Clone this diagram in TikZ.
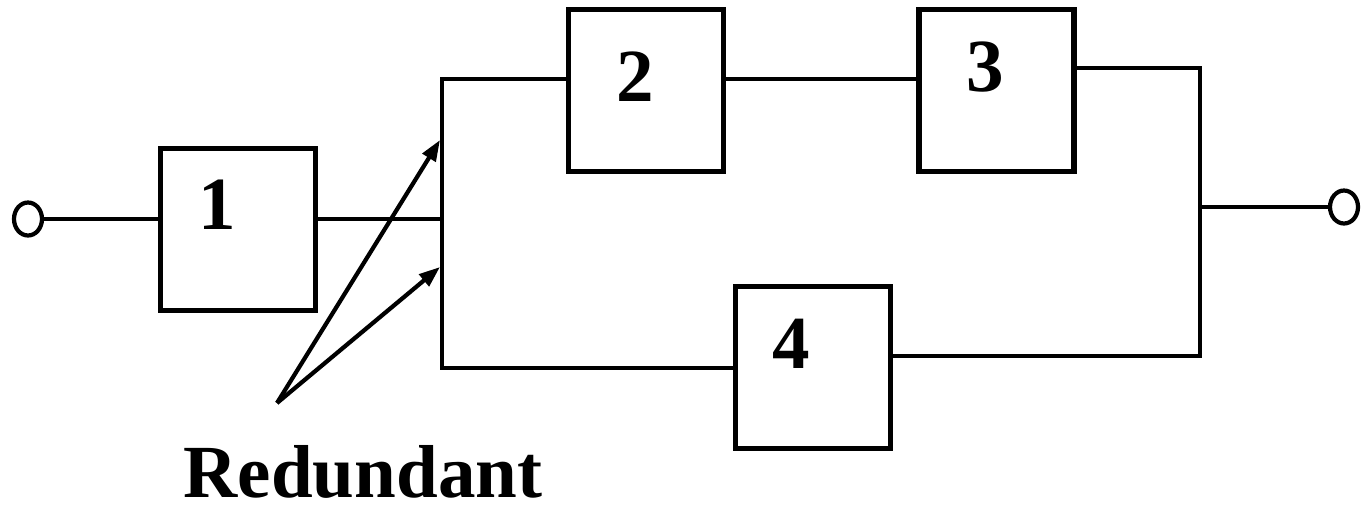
\documentclass[tikz,border=0pt]{standalone}
\usepackage{fontspec}
\setmainfont{Liberation Serif}
\usetikzlibrary{arrows.meta,shapes.geometric}

\begin{document}
\begin{tikzpicture}[x=0.02cm,y=-0.02cm,
  blk/.style={draw,line width=2.9pt,minimum width=3.1cm,minimum height=3.24cm,inner sep=0pt},
  term/.style={draw,ellipse,line width=2.4pt,minimum width=0.56cm,minimum height=0.66cm,inner sep=0pt},
  wire/.style={line width=2.4pt},
  ptr/.style={line width=2.4pt,-{Triangle[length=0.42cm,width=0.3cm]}},
  lbl/.style={font=\fontsize{42.7}{50}\selectfont\bfseries,inner sep=0pt}]
\useasboundingbox (0,0) rectangle (1365,505);
% blocks
\node[blk] (b1) at (238,229.5) {};
\node[blk] (b2) at (646,90.5) {};
\node[blk] (b3) at (996.5,90.5) {};
\node[blk] (b4) at (813,367.5) {};
\node[lbl] (l1) at (217,205) {1};
\node[lbl] (l2) at (635,77) {2};
\node[lbl] (l3) at (985,67) {3};
\node[lbl] (l4) at (791,344) {4};
% terminals
\node[term] (in) at (28,219) {};
\node[term] (out) at (1344,207) {};
% busses
\coordinate (bl1) at (442,79);
\coordinate (bl2) at (442,368);
\coordinate (blm) at (442,219);
\coordinate (br1) at (1200,68);
\coordinate (br2) at (1200,356);
\coordinate (bro) at (1200,207);
\draw[wire] (in) -- (in -| b1.west);
\draw[wire] (b1.east |- blm) -- (blm);
\draw[wire] (b2.west |- bl1) -- (bl1) -- (bl2) -- (b4.west |- bl2);
\draw[wire] (b2.east |- bl1) -- (b3.west |- bl1);
\draw[wire] (b3.east |- br1) -- (br1) -- (br2) -- (b4.east |- br2);
\draw[wire] (bro) -- (out);
% redundancy pointers
\coordinate (tail) at (277,403);
\coordinate (t1) at (440,140);
\coordinate (t2) at (440,267);
\draw[ptr] (tail) -- (t1);
\draw[ptr] (tail) -- (t2);
\node[lbl,anchor=base] (red) at (363,497) {Redundant};
\end{tikzpicture}
\end{document}
